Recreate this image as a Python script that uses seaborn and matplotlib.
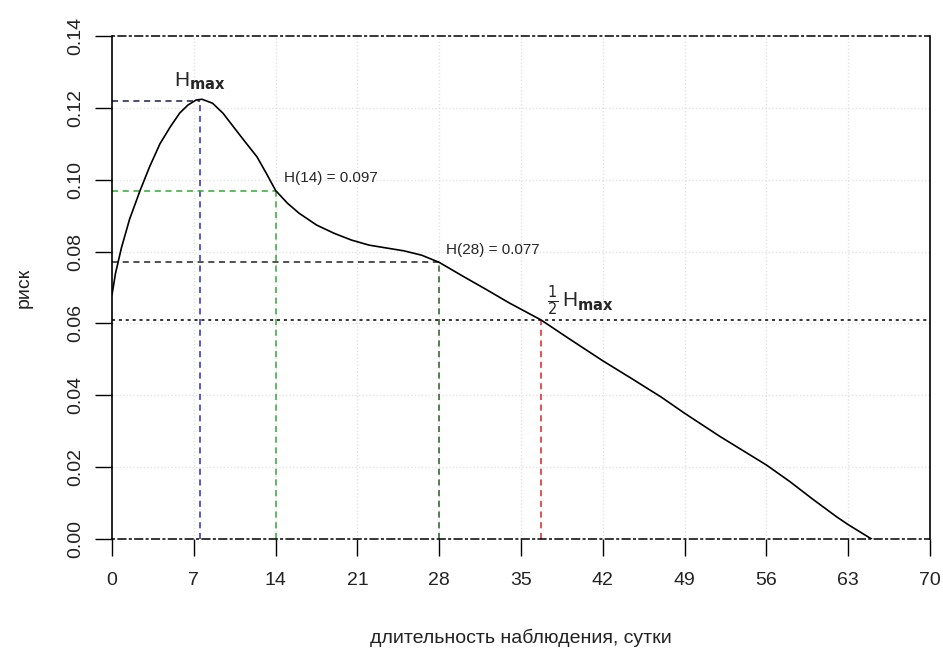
import matplotlib
matplotlib.use("Agg")
import matplotlib.pyplot as plt
import seaborn as sns
import pandas as pd

days = [0, 0.3, 0.8, 1.5, 2.4, 3.2, 4.1, 5.0, 5.8, 6.5, 7.2, 7.7, 8.6, 9.5, 10.4, 11.4,
        12.4, 13.2, 14, 15, 16, 17.5, 19, 20.5, 22, 23.5, 25, 26.5, 28, 30, 32, 34,
        36.7, 39, 42, 44.5, 47, 49, 52, 56, 58, 60, 62, 63, 64, 65.0]
risk = [0.068, 0.074, 0.081, 0.089, 0.097, 0.1035, 0.110, 0.1148, 0.1186, 0.1208,
        0.1222, 0.1224, 0.1213, 0.1185, 0.1147, 0.1105, 0.1064, 0.1018, 0.097, 0.0935,
        0.0907, 0.0874, 0.0851, 0.0832, 0.0818, 0.0810, 0.0802, 0.0790, 0.0770,
        0.0732, 0.0695, 0.0657, 0.0610, 0.0560, 0.0496, 0.0446, 0.0395, 0.0350,
        0.0286, 0.0206, 0.0160, 0.0110, 0.0062, 0.0040, 0.0020, 0.0]
x_ticks = [0, 7, 14, 21, 28, 35, 42, 49, 56, 63, 70]
y_ticks = [0.00, 0.02, 0.04, 0.06, 0.08, 0.10, 0.12, 0.14]
y_tick_labels = ["0.00", "0.02", "0.04", "0.06", "0.08", "0.10", "0.12", "0.14"]
h_max, t_max = 0.122, 7.5
h14, h28 = 0.097, 0.077
h_half, t_half = 0.061, 36.7

sns.set_theme(style="white")
plt.rcParams['font.family'] = ['Liberation Sans Narrow', 'Liberation Sans', 'DejaVu Sans']

fig = plt.figure(figsize=(9.43, 6.55), dpi=100)
ax = fig.add_axes([0.1188, 0.177, 0.8675, 0.768])

# faint grid
for xt in x_ticks[1:-1]:
    ax.axvline(xt, color="#e2e2e2", lw=1, ls=(0, (1, 1.5)), zorder=0)
for yt in y_ticks[1:-1]:
    ax.axhline(yt, color="#e2e2e2", lw=1, ls=(0, (1, 1.5)), zorder=0)

df = pd.DataFrame({"days": days, "risk": risk})
sns.lineplot(data=df, x="days", y="risk", color="black", lw=1.2, ax=ax, zorder=5)

# reference lines
ax.plot([0, t_max], [h_max, h_max], color="#1a1a50", ls=(0, (4, 3)), lw=1.1)
ax.plot([t_max, t_max], [0, h_max], color="#2a2acc", ls=(0, (4, 3)), lw=1.1)
ax.plot([0, 14], [h14, h14], color="#33aa33", ls=(0, (4, 3)), lw=1.1)
ax.plot([14, 14], [0, h14], color="#33aa33", ls=(0, (4, 3)), lw=1.1)
ax.plot([0, 28], [h28, h28], color="#222222", ls=(0, (4, 3)), lw=1.1)
ax.plot([28, 28], [0, h28], color="#2a5a2a", ls=(0, (4, 3)), lw=1.1)
ax.plot([0, 70], [h_half, h_half], color="black", ls=(0, (2, 2.5)), lw=1.1)
ax.plot([t_half, t_half], [0, h_half], color="#dd2222", ls=(0, (4, 3)), lw=1.1)
ax.plot([0, 70], [0.14, 0.14], color="black", ls=(0, (2, 1.5, 6, 1.5)), lw=1.1, clip_on=False)
ax.plot([0, 70], [0, 0], color="black", ls=(0, (2, 1.5, 6, 1.5)), lw=1.1, clip_on=False)

# annotations
ax.text(t_max, 0.1245, r"H$_{\mathbf{max}}$", fontsize=15, ha="center", va="bottom")
ax.text(14.7, h14 + 0.0015, "H(14) = 0.097", fontsize=11, ha="left", va="bottom")
ax.text(28.6, h28 + 0.0015, "H(28) = 0.077", fontsize=11, ha="left", va="bottom")
ax.text(37.2, h_half + 0.0005, r"$\frac{1}{2}\,$H$_{\mathbf{max}}$", fontsize=15,
        ha="left", va="bottom")

ax.set_xlim(0, 70)
ax.set_ylim(0, 0.14)
ax.set_xticks(x_ticks)
ax.set_xticklabels([str(v) for v in x_ticks], fontsize=14, color="#222222")
ax.set_yticks(y_ticks)
ax.set_yticklabels(y_tick_labels, fontsize=14, color="#222222", rotation=90, va="center")
ax.tick_params(axis="both", direction="out", length=12, width=1, color="black",
               bottom=True, left=True, pad=8)
ax.tick_params(axis="x", pad=12)

for s in ["top", "bottom"]:
    ax.spines[s].set_visible(False)
for s in ["left", "right"]:
    ax.spines[s].set_color("black")
    ax.spines[s].set_linewidth(1.2)

ax.set_xlabel("длительность наблюдения, сутки", fontsize=14, labelpad=28, color="#222222")
ax.set_ylabel("риск", fontsize=14, labelpad=25, color="#222222")

fig.savefig("out.png", dpi=100)
